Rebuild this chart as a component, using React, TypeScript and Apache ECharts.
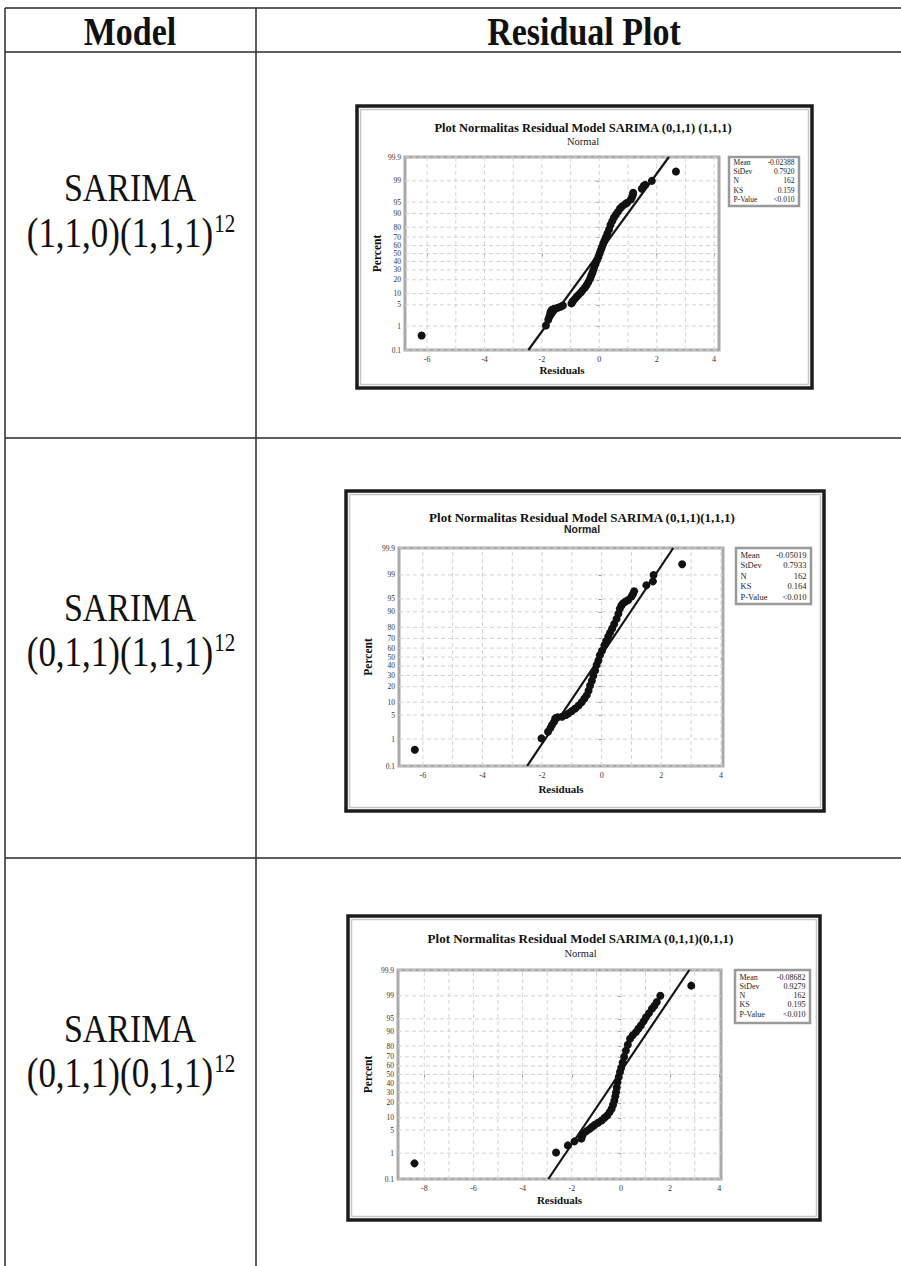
import React, { useEffect, useRef } from "react";
import * as echarts from "echarts";

// ---------- data ----------
const headerLabels = ["Model", "Residual Plot"];
const modelNames = ["(1,1,0)(1,1,1)", "(0,1,1)(1,1,1)", "(0,1,1)(0,1,1)"];
const seasonalPeriod = "12";
const plotTitles = [
  "Plot Normalitas Residual Model SARIMA (0,1,1) (1,1,1)",
  "Plot Normalitas Residual Model SARIMA (0,1,1)(1,1,1)",
  "Plot Normalitas Residual Model SARIMA (0,1,1)(0,1,1)",
];
const means = [-0.02388, -0.05019, -0.08682];
const stdevs = [0.792, 0.7933, 0.9279];
const meanLabels = ["-0.02388", "-0.05019", "-0.08682"];
const stdevLabels = ["0.7920", "0.7933", "0.9279"];
const nLabels = ["162", "162", "162"];
const ksLabels = ["0.159", "0.164", "0.195"];
const pValueLabels = ["<0.010", "<0.010", "<0.010"];
const statNames = ["Mean", "StDev", "N", "KS", "P-Value"];

const percentTicks = [0.1, 1, 5, 10, 20, 30, 40, 50, 60, 70, 80, 90, 95, 99, 99.9];
const percentTickLabels = ["0.1", "1", "5", "10", "20", "30", "40", "50", "60", "70", "80", "90", "95", "99", "99.9"];
const xTicks1 = [-6, -4, -2, 0, 2, 4];
const xTicks2 = [-6, -4, -2, 0, 2, 4];
const xTicks3 = [-8, -6, -4, -2, 0, 2, 4];
const xGrid1 = [-6, -5, -4, -3, -2, -1, 0, 1, 2, 3, 4];
const xGrid2 = [-6, -5, -4, -3, -2, -1, 0, 1, 2, 3, 4];
const xGrid3 = [-8, -7, -6, -5, -4, -3, -2, -1, 0, 1, 2, 3, 4];

// residual / percent pairs
const resid1 = [-6.19, -1.86, -1.78, -1.74, -1.71, -1.69, -1.65, -1.58, -1.45, -1.35, -1.27, -0.97, -0.93, -0.86, -0.79, -0.72, -0.65, -0.58, -0.5, -0.44, -0.38, -0.32, -0.28, -0.24, -0.21, -0.17, -0.13, -0.08, -0.03, 0.01, 0.05, 0.09, 0.14, 0.18, 0.23, 0.28, 0.34, 0.39, 0.45, 0.51, 0.58, 0.65, 0.72, 0.8, 0.9, 0.97, 1.1, 1.14, 1.17, 1.18, 1.48, 1.55, 1.6, 1.83, 2.67];
const pct1 = [0.43, 1.05, 1.7, 2.2, 2.8, 3.2, 3.6, 3.8, 4.1, 4.4, 4.8, 5.5, 6.2, 7.2, 8.3, 9.4, 10.5, 12, 13.8, 15.6, 18, 21, 24, 27, 30, 34, 37.5, 41.5, 45.6, 50, 54, 58, 62.5, 66, 70, 74, 78, 82, 85, 87.5, 89.4, 91, 92.5, 93.5, 94.3, 94.8, 95.8, 96.5, 97, 97.4, 98.1, 98.5, 98.6, 99.0, 99.57];

const resid2 = [-6.27, -2.02, -1.8, -1.72, -1.67, -1.6, -1.56, -1.48, -1.33, -1.2, -1.11, -1.0, -0.89, -0.78, -0.67, -0.58, -0.5, -0.44, -0.39, -0.33, -0.28, -0.22, -0.17, -0.11, -0.06, 0.01, 0.09, 0.15, 0.22, 0.28, 0.35, 0.42, 0.5, 0.56, 0.61, 0.66, 0.72, 0.8, 0.89, 1.0, 1.05, 1.09, 1.5, 1.72, 1.74, 2.7];
const pct2 = [0.43, 1.05, 1.7, 2.2, 2.7, 3.3, 4.1, 4.4, 4.5, 5.0, 5.5, 6.3, 7.2, 8.4, 10, 12, 14, 17, 21, 25, 30, 35, 41, 46, 52, 57, 63, 67.5, 72, 75.5, 79, 82.5, 86, 89, 91.5, 92.8, 93.6, 94.2, 94.7, 95.7, 96.3, 96.9, 97.9, 98.4, 99.0, 99.57];

const resid3 = [-8.4, -2.64, -2.16, -1.89, -1.61, -1.58, -1.54, -1.4, -1.27, -1.17, -1.07, -0.93, -0.79, -0.67, -0.56, -0.46, -0.38, -0.32, -0.27, -0.23, -0.2, -0.17, -0.14, -0.09, -0.04, 0.01, 0.07, 0.13, 0.2, 0.28, 0.37, 0.48, 0.61, 0.71, 0.81, 0.92, 1.02, 1.14, 1.26, 1.36, 1.46, 1.6, 2.86];
const pct3 = [0.43, 1.05, 1.8, 2.4, 2.9, 3.4, 4.0, 4.7, 5.4, 6.1, 6.8, 7.7, 8.7, 10, 11.3, 13.3, 15.6, 18.5, 22, 26, 30, 35, 41, 47, 53, 58, 64, 70, 76, 81, 85.5, 87.7, 89.5, 91.2, 92.6, 94.2, 95.5, 96.5, 97.4, 97.9, 98.4, 99.0, 99.57];

// ---------- helpers ----------
function probit(p: number): number {
  const a = [-3.969683028665376e1, 2.209460984245205e2, -2.759285104469687e2, 1.38357751867269e2, -3.066479806614716e1, 2.506628277459239];
  const b = [-5.447609879822406e1, 1.615858368580409e2, -1.556989798598866e2, 6.680131188771972e1, -1.328068155288572e1];
  const c = [-7.784894002430293e-3, -3.223964580411365e-1, -2.400758277161838, -2.549732539343734, 4.374664141464968, 2.938163982698783];
  const d = [7.784695709041462e-3, 3.224671290700398e-1, 2.445134137142996, 3.754408661907416];
  const plow = 0.02425;
  if (p < plow) {
    const q = Math.sqrt(-2 * Math.log(p));
    return (((((c[0] * q + c[1]) * q + c[2]) * q + c[3]) * q + c[4]) * q + c[5]) / ((((d[0] * q + d[1]) * q + d[2]) * q + d[3]) * q + 1);
  }
  if (p <= 1 - plow) {
    const q = p - 0.5;
    const r = q * q;
    return ((((((a[0] * r + a[1]) * r + a[2]) * r + a[3]) * r + a[4]) * r + a[5]) * q) / (((((b[0] * r + b[1]) * r + b[2]) * r + b[3]) * r + b[4]) * r + 1);
  }
  const q = Math.sqrt(-2 * Math.log(1 - p));
  return -(((((c[0] * q + c[1]) * q + c[2]) * q + c[3]) * q + c[4]) * q + c[5]) / ((((d[0] * q + d[1]) * q + d[2]) * q + d[3]) * q + 1);
}

const ZMIN = -3.0902;
const ZMAX = 3.0902;
const zTicks = percentTicks.map((p) => Math.max(ZMIN, Math.min(ZMAX, probit(p / 100))));

// layout
const plots = [
  { resid: resid1, pct: pct1, xTicks: xTicks1, xGrid: xGrid1, grid: { left: 405, top: 157, width: 314, height: 193 }, xmin: -6.77, xmax: 4.17,
    frame: [357, 106, 812, 388], titleY: 128, subY: 141, subSans: false, titleSize: 12.5, legend: [729, 157, 799, 206], legRow0: 162.5, legStep: 9.2, legFont: 7.5, yNameGap: 22, xNameGap: 14 },
  { resid: resid2, pct: pct2, xTicks: xTicks2, xGrid: xGrid2, grid: { left: 399, top: 548, width: 324, height: 218 }, xmin: -6.8, xmax: 4.07,
    frame: [346, 491, 824, 811], titleY: 517, subY: 529, subSans: true, titleSize: 13, legend: [736, 548, 811, 604], legRow0: 555, legStep: 10.4, legFont: 8.5, yNameGap: 25, xNameGap: 17 },
  { resid: resid3, pct: pct3, xTicks: xTicks3, xGrid: xGrid3, grid: { left: 398, top: 970, width: 323, height: 209 }, xmin: -9.07, xmax: 4.07,
    frame: [348, 916, 820, 1220], titleY: 938, subY: 953, subSans: false, titleSize: 13, legend: [735, 970, 810, 1023], legRow0: 977, legStep: 9.3, legFont: 8, yNameGap: 24, xNameGap: 15 },
];

const SERIF = "'Liberation Serif', 'Times New Roman', serif";
const SANS = "'Liberation Sans', Arial, sans-serif";

function buildOption() {
  const grids: any[] = [];
  const xAxes: any[] = [];
  const yAxes: any[] = [];
  const series: any[] = [];
  const graphic: any[] = [];

  // table lines
  const lineStyle = { stroke: "#2a2a2a", lineWidth: 1.5 };
  graphic.push({ type: "line", shape: { x1: 5, y1: 8, x2: 901, y2: 8 }, style: lineStyle });
  graphic.push({ type: "line", shape: { x1: 5, y1: 52, x2: 901, y2: 52 }, style: lineStyle });
  graphic.push({ type: "line", shape: { x1: 5, y1: 438, x2: 901, y2: 438 }, style: lineStyle });
  graphic.push({ type: "line", shape: { x1: 5, y1: 858, x2: 901, y2: 858 }, style: lineStyle });
  graphic.push({ type: "line", shape: { x1: 5, y1: 8, x2: 5, y2: 1266 }, style: lineStyle });
  graphic.push({ type: "line", shape: { x1: 256, y1: 8, x2: 256, y2: 1266 }, style: lineStyle });

  // header
  graphic.push({ type: "text", x: 130, y: 31, scaleY: 1.2, style: { text: headerLabels[0], font: `bold 34px ${SERIF}`, fill: "#111", align: "center", verticalAlign: "middle" } });
  graphic.push({ type: "text", x: 584, y: 31, scaleY: 1.2, style: { text: headerLabels[1], font: `bold 34px ${SERIF}`, fill: "#111", align: "center", verticalAlign: "middle" } });

  const modelRowY = [[187, 231], [607, 650], [1028, 1071]];
  modelNames.forEach((m, i) => {
    graphic.push({ type: "text", x: 130, y: modelRowY[i][0], scaleY: 1.2, style: { text: "SARIMA", font: `34px ${SERIF}`, fill: "#111", align: "center", verticalAlign: "middle" } });
    graphic.push({
      type: "text", x: 131, y: modelRowY[i][1], scaleY: 1.2,
      style: {
        text: `{m|${m}}{s|${seasonalPeriod}}`, align: "center", verticalAlign: "middle",
        rich: {
          m: { font: `35px ${SERIF}`, fill: "#111", lineHeight: 38, verticalAlign: "bottom" },
          s: { font: `21px ${SERIF}`, fill: "#111", lineHeight: 38, verticalAlign: "top", padding: [2, 0, 0, 1] },
        },
      },
    });
  });

  plots.forEach((pl, i) => {
    const [fx1, fy1, fx2, fy2] = pl.frame;
    graphic.push({ type: "rect", shape: { x: fx1, y: fy1, width: fx2 - fx1, height: fy2 - fy1 }, style: { fill: "#fff", stroke: "#1c1c1c", lineWidth: 3.5 }, z: -10 });
    graphic.push({ type: "rect", shape: { x: fx1 + 3.5, y: fy1 + 3.5, width: fx2 - fx1 - 7, height: fy2 - fy1 - 7 }, style: { fill: "none", stroke: "#c6c6c6", lineWidth: 1.5 }, z: -9 });
    const cx = pl.grid.left + pl.grid.width / 2 + 21;
    graphic.push({ type: "text", x: cx, y: pl.titleY, style: { text: plotTitles[i], font: `bold ${pl.titleSize}px ${SERIF}`, fill: "#111", align: "center", verticalAlign: "middle" } });
    graphic.push({ type: "text", x: cx, y: pl.subY, style: { text: "Normal", font: pl.subSans ? `bold 10.5px ${SANS}` : `10.5px ${SERIF}`, fill: "#222", align: "center", verticalAlign: "middle" } });

    // stats box
    const [lx1, ly1, lx2, ly2] = pl.legend;
    graphic.push({ type: "rect", shape: { x: lx1, y: ly1, width: lx2 - lx1, height: ly2 - ly1 }, style: { fill: "#fff", stroke: "#9a9a9a", lineWidth: 2.5 } });
    const vals = [meanLabels[i], stdevLabels[i], nLabels[i], ksLabels[i], pValueLabels[i]];
    statNames.forEach((s, k) => {
      const y = pl.legRow0 + k * pl.legStep;
      graphic.push({ type: "text", x: lx1 + 4.5, y, style: { text: s, font: `${pl.legFont}px ${SERIF}`, fill: "#222", align: "left", verticalAlign: "middle" } });
      graphic.push({ type: "text", x: lx2 - 4.5, y, style: { text: vals[k], font: `${pl.legFont}px ${SERIF}`, fill: "#222", align: "right", verticalAlign: "middle" } });
    });

    grids.push({ ...pl.grid, show: true, borderColor: "#a9a9a9", borderWidth: 3, backgroundColor: "transparent", containLabel: false });
    xAxes.push({
      type: "value", gridIndex: i, min: pl.xmin, max: pl.xmax,
      axisLine: { show: false },
      axisTick: { show: true, customValues: pl.xTicks, length: 3, lineStyle: { color: "#999" } },
      axisLabel: { customValues: pl.xTicks, fontSize: 8, fontFamily: SERIF, color: "#333", margin: 5, formatter: (v: number) => String(Math.round(v)) },
      splitLine: { show: false },
      name: "Residuals", nameLocation: "middle", nameGap: pl.xNameGap,
      nameTextStyle: { fontFamily: SERIF, fontWeight: "bold", fontSize: 11, color: "#111" },
    });
    yAxes.push({
      type: "value", gridIndex: i, min: ZMIN, max: ZMAX,
      axisLine: { show: false },
      axisTick: { show: true, customValues: zTicks, length: 3, lineStyle: { color: "#999" } },
      axisLabel: {
        customValues: zTicks, fontSize: 7.5, fontFamily: SERIF, color: "#333", margin: 4,
        showMinLabel: true, showMaxLabel: true,
        formatter: (v: number) => {
          let best = 0;
          zTicks.forEach((z, k) => { if (Math.abs(z - v) < Math.abs(zTicks[best] - v)) best = k; });
          return percentTickLabels[best];
        },
      },
      splitLine: { show: false },
      name: "Percent", nameLocation: "middle", nameGap: pl.yNameGap, nameRotate: 90,
      nameTextStyle: { fontFamily: SERIF, fontWeight: "bold", fontSize: 11.5, color: "#111" },
    });

    // grid lines
    series.push({
      type: "custom", xAxisIndex: i, yAxisIndex: i, silent: true, z: 2,
      data: pl.xGrid.map((v) => [v, 0]),
      renderItem: (_p: any, api: any) => {
        const v = api.value(0);
        const a = api.coord([v, ZMIN]);
        const b = api.coord([v, ZMAX]);
        return { type: "line", shape: { x1: a[0], y1: a[1], x2: b[0], y2: b[1] }, style: { stroke: "#d4d4d4", lineWidth: 1, lineDash: [4, 3] } };
      },
    });
    series.push({
      type: "custom", xAxisIndex: i, yAxisIndex: i, silent: true, z: 2,
      data: zTicks.map((z) => [0, z]),
      renderItem: (_p: any, api: any) => {
        const z = api.value(1);
        const a = api.coord([pl.xmin, z]);
        const b = api.coord([pl.xmax, z]);
        return { type: "line", shape: { x1: a[0], y1: a[1], x2: b[0], y2: b[1] }, style: { stroke: "#d4d4d4", lineWidth: 1, lineDash: [4, 3] } };
      },
    });
    // fitted normal line
    series.push({
      type: "line", xAxisIndex: i, yAxisIndex: i, z: 3, silent: true, showSymbol: false, symbol: "none",
      data: [[means[i] + ZMIN * stdevs[i], ZMIN], [means[i] + ZMAX * stdevs[i], ZMAX]],
      lineStyle: { color: "#151515", width: 2.2 },
    });
    // points
    series.push({
      type: "scatter", xAxisIndex: i, yAxisIndex: i, z: 4, silent: true,
      symbol: "circle", symbolSize: 8,
      itemStyle: { color: "#111", opacity: 1 },
      data: pl.resid.map((r, k) => [r, probit(pl.pct[k] / 100)]),
    });
  });

  return { animation: false, backgroundColor: "#fff", grid: grids, xAxis: xAxes, yAxis: yAxes, series, graphic };
}

export default function App() {
  const ref = useRef<HTMLDivElement>(null);
  useEffect(() => {
    if (!ref.current) return;
    const chart = echarts.init(ref.current, undefined, { renderer: "svg" });
    chart.setOption(buildOption() as any);
    return () => chart.dispose();
  }, []);
  return <div ref={ref} style={{ position: "absolute", left: 0, top: 0, width: 901, height: 1266, background: "#fff" }} />;
}
